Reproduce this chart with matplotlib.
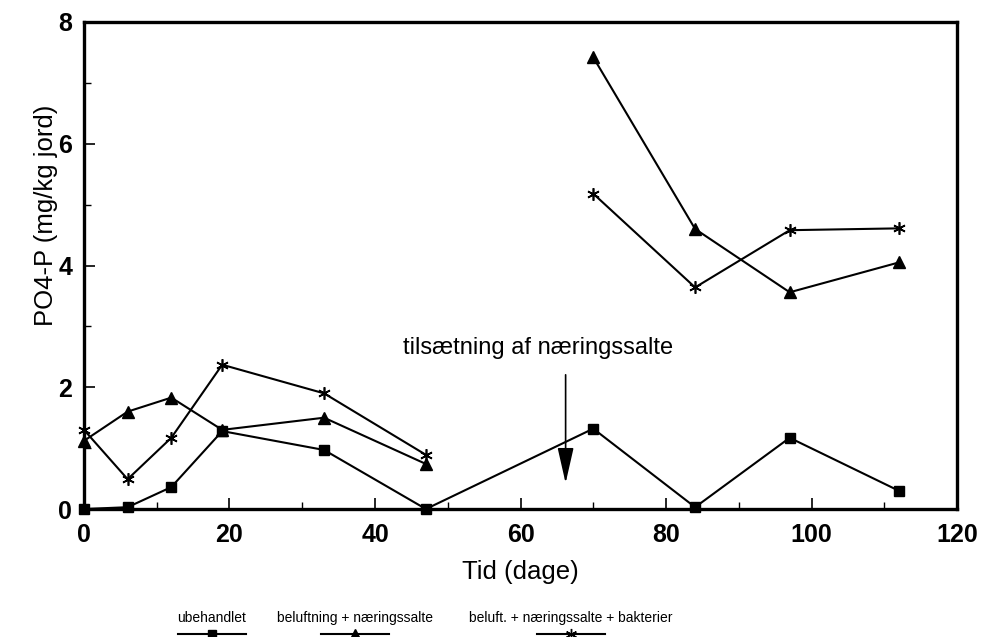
import numpy as np
import matplotlib
matplotlib.use("Agg")
import matplotlib.pyplot as plt
from matplotlib.lines import Line2D

plt.rcParams['font.family'] = ['Liberation Sans', 'DejaVu Sans']

days = [0, 6, 12, 19, 33, 47, 70, 84, 97, 112]
ubehandlet = [0.0, 0.03, 0.36, 1.28, 0.97, 0.0, 1.32, 0.03, 1.17, 0.30]
# triangle / star series have a gap between day 47 and 70
days_gap = [0, 6, 12, 19, 33, 47, 58, 70, 84, 97, 112]
belufning = [1.12, 1.60, 1.83, 1.30, 1.50, 0.74, None, 7.42, 4.60, 3.56, 4.05]
bakterier = [1.30, 0.49, 1.17, 2.37, 1.90, 0.89, None, 5.18, 3.64, 4.58, 4.61]

legend_labels = ["ubehandlet", "beluftning + næringssalte",
                 "beluft. + næringssalte + bakterier"]
xticks = [0, 20, 40, 60, 80, 100, 120]
yticks = [0, 2, 4, 6, 8]

fig = plt.figure(figsize=(9.94, 6.37), dpi=100)
ax = fig.add_axes([0.0845, 0.2009, 0.8783, 0.7646])

def tonan(v):
    return np.array([np.nan if a is None else a for a in v], dtype=float)

ax.plot(days, ubehandlet, color='black', lw=1.5, marker='s', ms=7, clip_on=False, zorder=3)
ax.plot(days_gap, tonan(belufning), color='black', lw=1.5, marker='^', ms=9, clip_on=False, zorder=3)
ax.plot(days_gap, tonan(bakterier), color='black', lw=1.5, marker=(6, 2, 0), ms=9,
        mew=1.2, clip_on=False, zorder=3)

ax.set_xlim(0, 120)
ax.set_ylim(0, 8)
ax.set_xticks(xticks)
ax.set_yticks(yticks)
ax.set_xticks(np.arange(10, 120, 20), minor=True)
ax.set_yticks(np.arange(1, 8, 2), minor=True)
ax.tick_params(which='major', direction='in', length=8, width=1.2, labelsize=18,
               top=False, right=False)
ax.tick_params(axis='y', which='major', pad=8.5)
ax.tick_params(axis='x', which='major', pad=10)
ax.tick_params(which='minor', direction='in', length=5, width=1.0, top=False, right=False)
for s in ax.spines.values():
    s.set_linewidth(2.4)
for lab in ax.get_xticklabels() + ax.get_yticklabels():
    lab.set_fontweight('bold')

ax.set_xlabel("Tid (dage)", fontsize=18.5)
ax.xaxis.set_label_coords(0.4995, -0.105)
ax.set_ylabel("PO4-P (mg/kg jord)", fontsize=18.5)
ax.yaxis.set_label_coords(-0.030, 0.604)

ax.annotate("", xy=(66.2, 0.38), xytext=(66.2, 2.25),
            arrowprops=dict(arrowstyle='-|>,head_length=2.2,head_width=0.5',
                            color='black', lw=1.2))
ax.text(62.4, 2.65, "tilsætning af næringssalte", fontsize=17, ha='center', va='center')

# bottom legend
centers = [212 / 994, 355 / 994, 571 / 994]
markers = ['s', '^', (6, 2, 0)]
msizes = [6, 7, 8]
for lab, cx, mk, msz in zip(legend_labels, centers, markers, msizes):
    fig.text(cx, 1 - 618 / 637, lab, fontsize=10, ha='center', va='center')
    y = 1 - 634 / 637
    fig.add_artist(Line2D([cx - 34 / 994, cx + 34 / 994], [y, y], color='black', lw=1.5,
                          transform=fig.transFigure))
    fig.add_artist(Line2D([cx], [y], marker=mk, ms=msz, color='black',
                          transform=fig.transFigure))

fig.savefig("out.png", dpi=100)
